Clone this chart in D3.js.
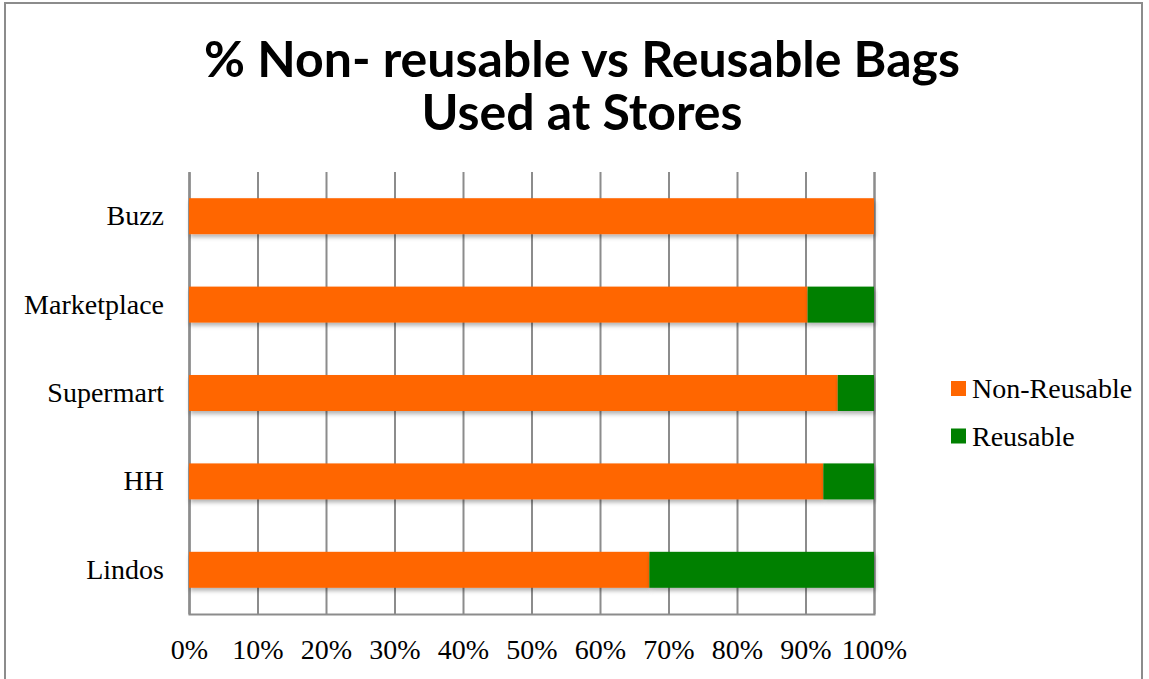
<!DOCTYPE html>
<html>
<head>
<meta charset="utf-8">
<script src="https://cdn.jsdelivr.net/npm/d3@7"></script>
<style>
  body { margin: 0; background: #fff; }
  svg { display: block; }
</style>
</head>
<body>
<div id="container"></div>
<script>
const width = 1149;
const height = 679;

// data
const stores = ["Buzz", "Marketplace", "Supermart", "HH", "Lindos"];
const nonReusable = [1.0, 0.903, 0.947, 0.926, 0.672];
const reusable = [0.0, 0.097, 0.053, 0.074, 0.328];
const seriesNames = ["Non-Reusable", "Reusable"];
const seriesColors = ["#ff6600", "#008000"];
const titleLines = ["% Non- reusable vs Reusable Bags", "Used at Stores"];
const xTicks = [0, 0.1, 0.2, 0.3, 0.4, 0.5, 0.6, 0.7, 0.8, 0.9, 1.0];

const plot = { left: 189, right: 874, top: 172, bottom: 614 };
const labelFont = "'Liberation Serif', serif";
const labelSize = "28px";

const rows = stores.map((s, i) => ({ store: s, "Non-Reusable": nonReusable[i], "Reusable": reusable[i] }));
const stacked = d3.stack().keys(seriesNames)(rows);

const svg = d3.select("#container").append("svg")
    .attr("width", width)
    .attr("height", height);

const defs = svg.append("defs");
const shadow = defs.append("filter").attr("id", "shadow")
    .attr("x", "-5%").attr("y", "-20%").attr("width", "110%").attr("height", "160%");
shadow.append("feDropShadow")
    .attr("dx", 1).attr("dy", 3).attr("stdDeviation", 2)
    .attr("flood-color", "#000").attr("flood-opacity", 0.3);

// chart frame
svg.append("rect")
    .attr("x", 5).attr("y", 3)
    .attr("width", 1137).attr("height", 720)
    .attr("fill", "none")
    .attr("stroke", "#8c8c8c")
    .attr("stroke-width", 2);

// title
svg.append("text")
    .attr("text-anchor", "middle")
    .style("font-family", "Lato, sans-serif")
    .style("font-weight", "bold")
    .style("font-size", "50px")
    .attr("fill", "#000")
    .selectAll("tspan")
    .data(titleLines)
    .join("tspan")
    .attr("x", 582)
    .attr("y", (d, i) => 77 + i * 53)
    .text(d => d);

// scales
const xScale = d3.scaleLinear().domain([0, 1]).range([plot.left, plot.right]);
const yScale = d3.scaleBand()
    .domain(stores)
    .range([plot.top, plot.bottom])
    .paddingInner(0.593)
    .paddingOuter(0.2965);

// gridlines + bottom labels
const xaxis = d3.axisBottom(xScale)
    .tickValues(xTicks)
    .tickFormat(d3.format(".0%"))
    .tickSize(-(plot.bottom - plot.top))
    .tickPadding(25);

const gx = svg.append("g")
    .attr("transform", "translate(0," + plot.bottom + ")")
    .call(xaxis);
gx.select(".domain").attr("stroke", "#8c8c8c").attr("stroke-width", 2);
gx.selectAll(".tick line").attr("stroke", "#8c8c8c").attr("stroke-width", 2);
gx.selectAll(".tick text")
    .style("font-family", labelFont)
    .style("font-size", labelSize)
    .attr("fill", "#000");

// left axis
const yaxis = d3.axisLeft(yScale).tickSize(0).tickPadding(25);
const gy = svg.append("g")
    .attr("transform", "translate(" + plot.left + ",0)")
    .call(yaxis);
gy.select(".domain").attr("stroke", "#8c8c8c").attr("stroke-width", 2);
gy.selectAll(".tick text")
    .style("font-family", labelFont)
    .style("font-size", labelSize)
    .attr("fill", "#000");

// bars
const layers = svg.append("g").selectAll("g")
    .data(stacked)
    .join("g")
    .attr("fill", (d, i) => seriesColors[i]);

layers.selectAll("rect")
    .data(d => d)
    .join("rect")
    .attr("x", d => xScale(d[0]))
    .attr("y", d => yScale(d.data.store))
    .attr("width", d => xScale(d[1]) - xScale(d[0]))
    .attr("height", yScale.bandwidth())
    .attr("filter", "url(#shadow)");

// legend
const legend = svg.append("g").selectAll("g")
    .data(seriesNames)
    .join("g")
    .attr("transform", (d, i) => "translate(951," + (381 + i * 47.5) + ")");

legend.append("rect")
    .attr("width", 15).attr("height", 15)
    .attr("fill", (d, i) => seriesColors[i]);

legend.append("text")
    .attr("x", 21).attr("y", 7.5).attr("dy", "0.35em")
    .style("font-family", labelFont)
    .style("font-size", labelSize)
    .attr("fill", "#000")
    .text(d => d);
</script>
</body>
</html>
